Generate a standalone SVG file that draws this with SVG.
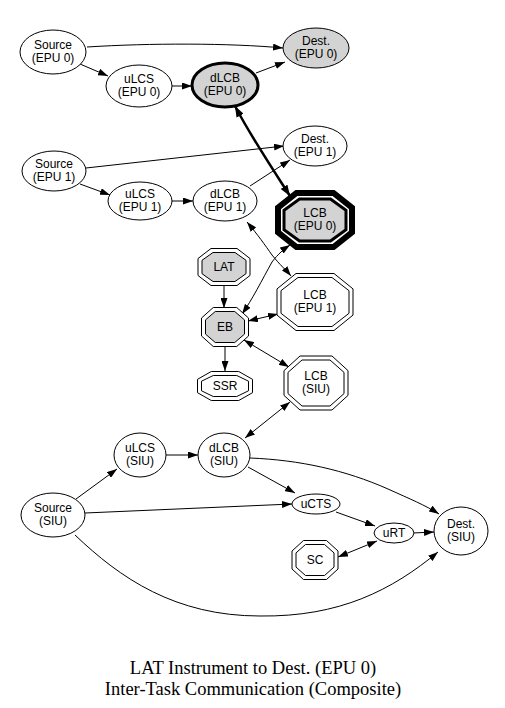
<svg xmlns="http://www.w3.org/2000/svg" width="505" height="708" viewBox="0 0 505 708">
<style>
.n{fill:#fff;stroke:#000;stroke-width:1}
.g{fill:#d3d3d3}
.t{font-family:"Liberation Sans",Arial,sans-serif;font-size:12px;text-anchor:middle;fill:#000}
.e{fill:none;stroke:#000;stroke-width:1}
.cap{font-family:"Liberation Serif","Times New Roman",serif;font-size:18.5px;text-anchor:middle;fill:#000}
</style>
<defs>
<marker id="ah" markerUnits="userSpaceOnUse" markerWidth="10" markerHeight="7" refX="10" refY="3.5" orient="auto-start-reverse">
<path d="M0,0 L10,3.5 L0,7 z" fill="#000"/>
</marker>
<marker id="ahb" markerUnits="userSpaceOnUse" markerWidth="11" markerHeight="8" refX="11" refY="4" orient="auto-start-reverse">
<path d="M0,0 L11,4 L0,8 z" fill="#000"/>
</marker>
</defs>
<rect width="505" height="708" fill="#fff"/>

<g id="edges">
<path class="e" d="M87,47 C150,43 230,43 283,48" marker-end="url(#ah)"/>
<path class="e" d="M80,64 L108,76" marker-end="url(#ah)"/>
<path class="e" d="M172,86 L192,86" marker-end="url(#ah)"/>
<path class="e" d="M256,73 L285,62" marker-end="url(#ah)"/>
<path class="e" style="stroke-width:2.5" d="M235,106 C250,135 270,165 290,196" marker-start="url(#ahb)" marker-end="url(#ahb)"/>
<path class="e" d="M86,168 L284,146" marker-end="url(#ah)"/>
<path class="e" d="M80,184 L110,195" marker-end="url(#ah)"/>
<path class="e" d="M171,201 L193,201" marker-end="url(#ah)"/>
<path class="e" d="M250,186 L290,160" marker-end="url(#ah)"/>
<path class="e" d="M247,222 C258,235 265,245 272,255 C280,265 286,270 291,276" marker-start="url(#ah)" marker-end="url(#ah)"/>
<path class="e" d="M242,314 C252,300 262,280 272,262 C278,254 284,249 290,245" marker-start="url(#ah)" marker-end="url(#ah)"/>
<path class="e" d="M224,286 L224,308" marker-end="url(#ah)"/>
<path class="e" d="M248,321 L278,314" marker-start="url(#ah)" marker-end="url(#ah)"/>
<path class="e" d="M225,347 L225,371" marker-end="url(#ah)"/>
<path class="e" d="M244,340 L289,367" marker-start="url(#ah)" marker-end="url(#ah)"/>
<path class="e" d="M245,438 L290,402" marker-start="url(#ah)" marker-end="url(#ah)"/>
<path class="e" d="M76,499 L117,469" marker-end="url(#ah)"/>
<path class="e" d="M166,455 L198,455" marker-end="url(#ah)"/>
<path class="e" d="M85,513 L292,504" marker-end="url(#ah)"/>
<path class="e" d="M248,467 L295,493" marker-end="url(#ah)"/>
<path class="e" d="M250,458 C300,460 345,470 388,489 C410,499 425,505 439,514" marker-end="url(#ah)"/>
<path class="e" d="M336,512 L375,526" marker-end="url(#ah)"/>
<path class="e" d="M413,533 L434,532" marker-end="url(#ah)"/>
<path class="e" d="M338,557 L377,541" marker-start="url(#ah)" marker-end="url(#ah)"/>
<path class="e" d="M75,535 C120,578 175,616 260,616 C340,617 392,590 438,552" marker-end="url(#ah)"/>
</g>

<g id="source_epu0"><ellipse class="n" cx="53" cy="52" rx="33" ry="22"/><text class="t" x="53" y="49">Source</text><text class="t" x="53" y="62">(EPU 0)</text></g>
<g id="ulcs_epu0"><ellipse class="n" cx="139" cy="86" rx="33" ry="21"/><text class="t" x="139" y="83">uLCS</text><text class="t" x="139" y="96">(EPU 0)</text></g>
<g id="dlcb_epu0"><ellipse class="n g" style="stroke-width:3" cx="225" cy="85" rx="33" ry="22"/><text class="t" x="225" y="82">dLCB</text><text class="t" x="225" y="95">(EPU 0)</text></g>
<g id="dest_epu0"><ellipse class="n g" cx="316" cy="48" rx="33" ry="20"/><text class="t" x="316" y="45">Dest.</text><text class="t" x="316" y="58">(EPU 0)</text></g>

<g id="source_epu1"><ellipse class="n" cx="54" cy="171" rx="32" ry="20"/><text class="t" x="54" y="168">Source</text><text class="t" x="54" y="181">(EPU 1)</text></g>
<g id="ulcs_epu1"><ellipse class="n" cx="140" cy="201" rx="32" ry="19"/><text class="t" x="140" y="198">uLCS</text><text class="t" x="140" y="211">(EPU 1)</text></g>
<g id="dlcb_epu1"><ellipse class="n" cx="225" cy="201" rx="32" ry="20"/><text class="t" x="225" y="198">dLCB</text><text class="t" x="225" y="211">(EPU 1)</text></g>
<g id="dest_epu1"><ellipse class="n" cx="315" cy="146" rx="32" ry="20"/><text class="t" x="315" y="143">Dest.</text><text class="t" x="315" y="156">(EPU 1)</text></g>

<g id="lcb_epu0">
<polygon fill="#fff" stroke="#000" stroke-width="6" points="296.5,193 333.5,193 352,207.6 352,232.4 333.5,247 296.5,247 278,232.4 278,207.6"/>
<polygon fill="#d3d3d3" stroke="#000" stroke-width="3" points="299.5,199 330.5,199 346,210.3 346,229.7 330.5,241 299.5,241 284,229.7 284,210.3"/>
<text class="t" x="315" y="217">LCB</text><text class="t" x="315" y="230">(EPU 0)</text>
</g>

<g id="lat">
<polygon class="n" points="211,248.5 237,248.5 250,258.5 250,275.5 237,285.5 211,285.5 198,275.5 198,258.5"/>
<polygon class="n g" points="213,252.5 235,252.5 246,260.3 246,273.7 235,281.5 213,281.5 202,273.7 202,260.3"/>
<text class="t" x="224" y="271">LAT</text>
</g>
<g id="eb">
<polygon class="n" points="213.25,307.5 236.75,307.5 248.5,318 248.5,336 236.75,346.5 213.25,346.5 201.5,336 201.5,318"/>
<polygon class="n g" points="215.25,311.5 234.75,311.5 244.5,319.9 244.5,334.1 234.75,342.5 215.25,342.5 205.5,334.1 205.5,319.9"/>
<text class="t" x="225" y="331">EB</text>
</g>
<g id="ssr">
<polygon class="n" points="211.25,371.5 238.75,371.5 252.5,379.3 252.5,392.7 238.75,400.5 211.25,400.5 197.5,392.7 197.5,379.3"/>
<polygon class="n" points="213.25,375.5 236.75,375.5 248.5,381.2 248.5,390.8 236.75,396.5 213.25,396.5 201.5,390.8 201.5,381.2"/>
<text class="t" x="225" y="390">SSR</text>
</g>
<g id="lcb_epu1">
<polygon class="n" points="296,273.5 334,273.5 353,288.9 353,315.1 334,330.5 296,330.5 277,315.1 277,288.9"/>
<polygon class="n" points="298,277.5 332,277.5 349,290.7 349,313.3 332,326.5 298,326.5 281,313.3 281,290.7"/>
<text class="t" x="315" y="299">LCB</text><text class="t" x="315" y="312">(EPU 1)</text>
</g>
<g id="lcb_siu">
<polygon class="n" points="300,356 332,356 348,370.6 348,395.4 332,410 300,410 284,395.4 284,370.6"/>
<polygon class="n" points="302,360 330,360 344,372.4 344,393.6 330,406 302,406 288,393.6 288,372.4"/>
<text class="t" x="316" y="380">LCB</text><text class="t" x="316" y="393">(SIU)</text>
</g>

<g id="ulcs_siu"><ellipse class="n" cx="140" cy="455" rx="26" ry="22"/><text class="t" x="140" y="452">uLCS</text><text class="t" x="140" y="465">(SIU)</text></g>
<g id="dlcb_siu"><ellipse class="n" cx="224" cy="455" rx="26" ry="22"/><text class="t" x="224" y="452">dLCB</text><text class="t" x="224" y="465">(SIU)</text></g>
<g id="source_siu"><ellipse class="n" cx="53" cy="515" rx="32" ry="22"/><text class="t" x="53" y="512">Source</text><text class="t" x="53" y="525">(SIU)</text></g>
<g id="ucts"><ellipse class="n" cx="316" cy="504" rx="24" ry="10"/><text class="t" x="316" y="508">uCTS</text></g>
<g id="urt"><ellipse class="n" cx="394" cy="533" rx="20" ry="10"/><text class="t" x="394" y="537">uRT</text></g>
<g id="dest_siu"><ellipse class="n" cx="461" cy="531" rx="27" ry="24"/><text class="t" x="461" y="528">Dest.</text><text class="t" x="461" y="541">(SIU)</text></g>
<g id="sc">
<polygon class="n" points="303.5,540.5 326.5,540.5 338,551 338,569 326.5,579.5 303.5,579.5 292,569 292,551"/>
<polygon class="n" points="305.5,544.5 324.5,544.5 334,552.9 334,567.1 324.5,575.5 305.5,575.5 296,567.1 296,552.9"/>
<text class="t" x="315" y="564">SC</text>
</g>

<g id="caption">
<text class="cap" x="253" y="674">LAT Instrument to Dest. (EPU 0)</text>
<text class="cap" x="253" y="695">Inter-Task Communication (Composite)</text>
</g>
</svg>
